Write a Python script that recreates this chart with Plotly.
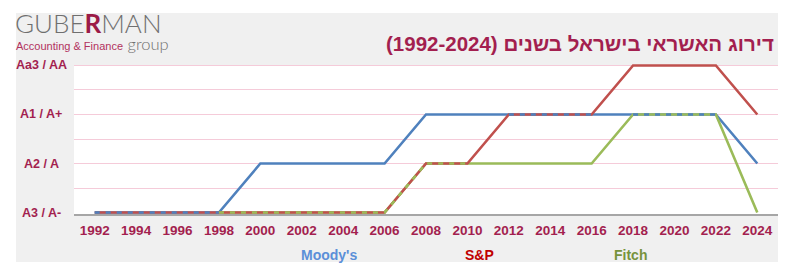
import plotly.graph_objects as go

# ---- data ----
years = [1992, 1994, 1996, 1998, 2000, 2002, 2004, 2006, 2008,
         2010, 2012, 2014, 2016, 2018, 2020, 2022, 2024]
rating_labels = ["A3 / A-", "A2 / A", "A1 / A+", "Aa3 / AA"]
rating_levels = [0, 1, 2, 3]
moodys = [0, 0, 0, 0, 1, 1, 1, 1, 2, 2, 2, 2, 2, 2, 2, 2, 1]
sp     = [0, 0, 0, 0, 0, 0, 0, 0, 1, 1, 2, 2, 2, 3, 3, 3, 2]
fitch  = [None, None, None, 0, 0, 0, 0, 0, 1, 1, 1, 1, 1, 2, 2, 2, 0]
series_names = ["Moody's", "S&P", "Fitch"]
title_text = "(1992-2024) דירוג האשראי בישראל בשנים"

# ---- styles ----
BLUE, RED, GREEN = "#4f81bd", "#c0504d", "#9bbb59"
CRIMSON = "#a31f4f"
FONT = "Liberation Sans, Arial, sans-serif"
LW = 2.6

fig = go.Figure()

def overlap(xs, a, b):
    ox, oy = [], []
    for i in range(len(xs) - 1):
        if (a[i] is not None and a[i + 1] is not None and b[i] is not None
                and b[i + 1] is not None and a[i] == b[i] and a[i + 1] == b[i + 1]):
            if ox and ox[-1] == xs[i]:
                ox.append(xs[i + 1]); oy.append(a[i + 1])
            else:
                if ox:
                    ox.append(None); oy.append(None)
                ox += [xs[i], xs[i + 1]]; oy += [a[i], a[i + 1]]
    return ox, oy

# base solid lines (bottom to top): Moody's, Fitch, S&P
for name, vals, col in [("Moody's", moodys, BLUE), ("Fitch", fitch, GREEN), ("S&P", sp, RED)]:
    fig.add_trace(go.Scatter(x=years, y=vals, mode="lines", name=name,
                             line=dict(color=col, width=LW), showlegend=False,
                             hoverinfo="skip"))

# dashed overlays where series coincide
for a, b, col in [(sp, moodys, BLUE), (sp, fitch, GREEN), (fitch, moodys, BLUE)]:
    ox, oy = overlap(years, a, b)
    if ox:
        fig.add_trace(go.Scatter(x=ox, y=oy, mode="lines", showlegend=False,
                                 line=dict(color=col, width=LW, dash="5px,6px"),
                                 hoverinfo="skip"))

L, R, T, B = 74, 17, 64, 62
W, H = 795, 276
pw, ph = W - L - R, H - T - B

def px_x(p):
    return (p - L) / pw

def px_y(p):
    return (H - B - p) / ph

shapes = [
    dict(type="rect", xref="paper", yref="paper", x0=px_x(16), x1=px_x(778),
         y0=px_y(262), y1=px_y(13), fillcolor="#f0f0f0", line_width=0, layer="below"),
    dict(type="rect", xref="paper", yref="paper", x0=0, x1=1,
         y0=0, y1=px_y(65), fillcolor="#ffffff", line_width=0, layer="below"),
]

annotations = []
# y labels (centered)
for lv, lab in zip(rating_levels, rating_labels):
    annotations.append(dict(x=px_x(41), y=lv, xref="paper", yref="y", text=f"<b>{lab}</b>",
                            showarrow=False, xanchor="center", yanchor="middle",
                            font=dict(family=FONT, size=12.5, color=CRIMSON)))
# legend texts
for name, xc, col in zip(series_names, [329, 479, 630], ["#5b8fd8", "#c00000", "#77933c"]):
    annotations.append(dict(x=px_x(xc), y=px_y(255), xref="paper", yref="paper",
                            text=f"<b>{name}</b>", showarrow=False, xanchor="center",
                            yanchor="middle", font=dict(family=FONT, size=14, color=col)))
# title
annotations.append(dict(x=px_x(776), y=px_y(43), xref="paper", yref="paper",
                        text=f"<b>{title_text}</b>", showarrow=False, xanchor="right",
                        yanchor="middle", font=dict(family=FONT, size=20.5, color=CRIMSON)))
# logo
annotations.append(dict(x=px_x(14), y=px_y(22.5), xref="paper", yref="paper",
                        text="GUBE<span style='color:#9b1b47'><b>R</b></span>MAN",
                        showarrow=False, xanchor="left", yanchor="middle", borderpad=0,
                        font=dict(family="Lato, Open Sans, sans-serif", size=26, color="#6f6f6f",
                                  weight=300)))
annotations.append(dict(x=px_x(15), y=px_y(44), xref="paper", yref="paper",
                        text=("<span style='font-family:Liberation Sans;font-size:11px;"
                              "color:#b2325e'>Accounting &amp; Finance</span> group"),
                        showarrow=False, xanchor="left", yanchor="middle", borderpad=0,
                        font=dict(family="Lato, Open Sans, sans-serif", size=16.5, color="#6f6f6f",
                                  weight=300)))

fig.update_layout(
    width=W, height=H,
    margin=dict(l=L, r=R, t=T, b=B, pad=0),
    paper_bgcolor="#ffffff", plot_bgcolor="rgba(0,0,0,0)",
    shapes=shapes, annotations=annotations,
    xaxis=dict(range=[1991, 2025], tickmode="array", tickvals=years,
               ticktext=[f"<b>{y}</b>" for y in years], showgrid=False, zeroline=False,
               showline=True, linecolor="#a6a6a6", linewidth=1.5, ticks="",
               ticklabelstandoff=3,
               tickfont=dict(family=FONT, size=13.5, color=CRIMSON), fixedrange=True),
    yaxis=dict(range=[-0.03, 3.03], tickmode="array",
               tickvals=[0.5, 1, 1.5, 2, 2.5, 3], showticklabels=False,
               showgrid=True, gridcolor="#f5cbd9", gridwidth=1, zeroline=False,
               showline=False, ticks="", fixedrange=True),
    font=dict(family=FONT),
)

fig.write_html("out.html")
